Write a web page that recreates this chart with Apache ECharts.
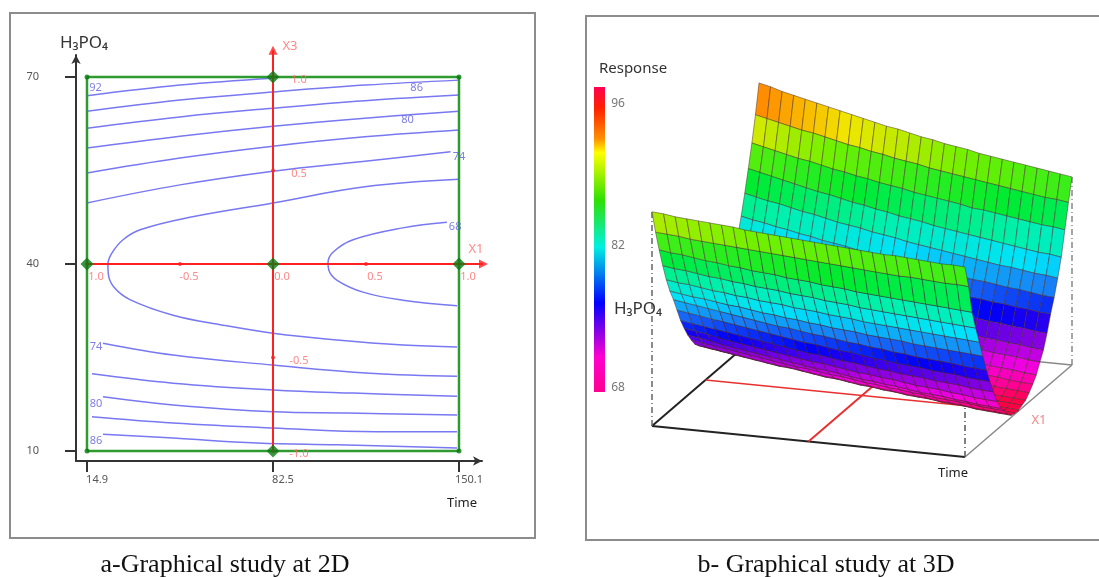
<!DOCTYPE html>
<html><head><meta charset="utf-8">
<style>html,body{margin:0;padding:0;background:#fff}#c{width:1099px;height:577px}</style>
<script src="https://cdn.jsdelivr.net/npm/echarts@6/dist/echarts.min.js"></script>
</head><body><div id="c"></div>
<script>
// ---------- 2D panel: contours as [Time, H3PO4] ----------
const contour89=[[14.9,67.0],[48.7,68.7],[82.5,69.8]];
const contour86=[[14.9,64.5],[48.7,66.3],[82.5,67.6],[115.9,68.7],[150.1,69.5]];
const contour83=[[14.9,61.8],[48.7,63.6],[82.5,65.0],[115.9,66.2],[150.1,67.1]];
const contour80=[[14.9,58.6],[48.7,60.5],[82.5,62.1],[115.9,63.4],[150.1,64.5]];
const contour77=[[14.9,54.6],[48.7,57.0],[82.5,58.9],[115.9,60.4],[150.1,61.5]];
const contour74=[[14.9,49.8],[48.7,52.7],[82.5,54.9],[115.9,56.5],[147,58.0]];
const contour71outer=[[150.1,53.6],[115.9,52.4],[82.5,49.8],[52.3,47.5],[34.2,45.5],[28,43.9],[24,41.8],[22.5,40],[22.6,38.6],[24.5,36.4],[30.5,34.3],[46.2,31.8],[64.3,30.2],[82.5,28.9],[105.8,27.8],[129.7,27],[149.4,26.7]];
const contour68inner=[[145.7,46.7],[129.7,45.8],[111.6,43.9],[104.3,41.9],[102.5,40.2],[102.8,39],[105.8,37.4],[115.2,35.5],[129.7,34.2],[149.4,33.3]];
const contourLow74=[[20.7,27.3],[46.2,25.4],[82.5,23.8],[117.7,22.5],[149.4,22]];
const contourLow77=[[16.7,22.4],[46.2,20.9],[82.5,19.8],[111.6,19.3],[149.4,18.8]];
const contourLow80=[[20.7,18.7],[46.2,17.4],[82.5,16.3],[109.4,16.1],[149.4,15.8]];
const contourLow83=[[16.7,15.5],[46.2,14.5],[82.5,13.7],[120.3,13.1],[149.4,13.1]];
const contourLow86=[[20.7,12.7],[46.2,12.1],[76.7,11.3],[105.8,11],[149.4,10.5]];
const contourLabels=[['92',18,68.2],['86',134.7,68.2],['80',131.4,63.1],['74',150.1,57.2],['68',148.7,46],['74',18.2,26.7],['80',18.2,17.6],['86',18.2,11.6]];
const timeTicks=[14.9,82.5,150.1];
const acidTicks=[10,40,70];
const x1Ticks=[-1,-0.5,0,0.5,1];
const x1TickText=['1.0','-0.5','0.0','0.5','1.0'];
const x3Ticks=[1,0.5,-0.5,-1];
const x3TickText=['1.0','0.5','-0.5','-1.0'];
const designPoints=[[14.9,40],[82.5,70],[82.5,40],[150.1,40],[82.5,10]];
const cornerPoints=[[14.9,70],[150.1,70],[14.9,10],[150.1,10]];
const studyBox=[[14.9,10],[14.9,70],[150.1,70],[150.1,10],[14.9,10]];
const x1Shaft=[[14.9,40],[159,40]];
const x3Shaft=[[82.5,10],[82.5,74.3]];
// ---------- 3D panel: response at each mesh node, row = H3PO4 (70 to 10), col = Time ----------
const responseRows=[
[92.9,92.6,92.2,91.9,91.6,91.3,91.0,90.7,90.4,90.1,89.8,89.5,89.3,89.0,88.7,88.5,88.2,88.0,87.8,87.5,87.3,87.1,86.9,86.7,86.5,86.3,86.1,85.9],
[89.7,89.4,89.1,88.8,88.5,88.3,88.0,87.7,87.4,87.2,86.9,86.7,86.4,86.2,86.0,85.7,85.5,85.3,85.1,84.9,84.7,84.5,84.3,84.1,83.9,83.7,83.6,83.4],
[86.9,86.6,86.3,86.0,85.7,85.5,85.2,84.9,84.7,84.4,84.2,83.9,83.7,83.5,83.2,83.0,82.8,82.6,82.4,82.1,82.0,81.8,81.6,81.4,81.2,81.0,80.9,80.7],
[84.4,84.1,83.8,83.5,83.2,82.9,82.6,82.4,82.1,81.8,81.6,81.3,81.1,80.8,80.6,80.4,80.1,79.9,79.7,79.5,79.3,79.1,78.9,78.7,78.5,78.3,78.2,78.0],
[82.0,81.7,81.4,81.2,80.9,80.6,80.4,80.1,79.8,79.6,79.4,79.1,78.9,78.7,78.4,78.2,78.0,77.8,77.6,77.4,77.2,77.0,76.8,76.7,76.5,76.3,76.2,76.0],
[79.8,79.5,79.3,79.0,78.8,78.5,78.3,78.0,77.8,77.6,77.3,77.1,76.9,76.7,76.5,76.3,76.1,75.9,75.7,75.5,75.3,75.2,75.0,74.8,74.7,74.5,74.3,74.2],
[77.8,77.6,77.3,77.1,76.9,76.6,76.4,76.2,76.0,75.8,75.6,75.4,75.2,75.0,74.8,74.6,74.4,74.2,74.1,73.9,73.7,73.6,73.4,73.3,73.1,73.0,72.8,72.7],
[76.1,75.9,75.6,75.4,75.1,74.9,74.7,74.5,74.2,74.0,73.8,73.6,73.4,73.2,73.0,72.8,72.6,72.5,72.3,72.1,72.0,71.8,71.6,71.5,71.3,71.2,71.0,70.9],
[74.6,74.4,74.1,73.9,73.6,73.4,73.2,73.0,72.7,72.5,72.3,72.1,71.9,71.7,71.5,71.3,71.1,71.0,70.8,70.6,70.5,70.3,70.1,70.0,69.8,69.7,69.5,69.4],
[73.3,73.1,72.8,72.6,72.4,72.2,72.0,71.7,71.5,71.3,71.1,71.0,70.8,70.6,70.4,70.2,70.0,69.9,69.7,69.5,69.4,69.2,69.1,68.9,68.8,68.7,68.5,68.4],
[72.1,71.9,71.6,71.4,71.2,71.0,70.8,70.6,70.4,70.2,70.0,69.8,69.6,69.4,69.2,69.1,68.9,68.7,68.6,68.4,68.3,68.1,68.0,67.8,67.7,67.6,67.4,67.3],
[71.1,70.9,70.7,70.5,70.3,70.1,69.9,69.7,69.5,69.3,69.1,68.9,68.8,68.6,68.4,68.3,68.1,67.9,67.8,67.6,67.5,67.4,67.2,67.1,67.0,66.8,66.7,66.6],
[70.3,70.1,69.9,69.7,69.5,69.3,69.1,68.9,68.8,68.6,68.4,68.2,68.1,67.9,67.7,67.6,67.4,67.3,67.1,67.0,66.9,66.7,66.6,66.5,66.3,66.2,66.1,66.0],
[69.6,69.4,69.2,69.0,68.8,68.7,68.5,68.3,68.1,68.0,67.8,67.6,67.5,67.3,67.2,67.0,66.9,66.7,66.6,66.5,66.3,66.2,66.1,66.0,65.8,65.7,65.6,65.5],
[69.2,69.0,68.8,68.7,68.5,68.3,68.1,68.0,67.8,67.6,67.5,67.3,67.2,67.0,66.9,66.7,66.6,66.5,66.3,66.2,66.1,66.0,65.8,65.7,65.6,65.5,65.4,65.3],
[68.9,68.7,68.5,68.4,68.2,68.0,67.9,67.7,67.5,67.4,67.2,67.1,66.9,66.8,66.6,66.5,66.4,66.2,66.1,66.0,65.9,65.7,65.6,65.5,65.4,65.3,65.2,65.1],
[69.1,68.9,68.7,68.5,68.4,68.2,68.0,67.8,67.7,67.5,67.3,67.2,67.0,66.9,66.7,66.6,66.4,66.3,66.2,66.0,65.9,65.8,65.7,65.5,65.4,65.3,65.2,65.1],
[69.5,69.3,69.1,68.9,68.7,68.5,68.3,68.1,68.0,67.8,67.6,67.4,67.3,67.1,66.9,66.8,66.6,66.5,66.3,66.2,66.1,65.9,65.8,65.7,65.5,65.4,65.3,65.2],
[70.0,69.8,69.6,69.4,69.2,69.0,68.8,68.6,68.5,68.3,68.1,67.9,67.8,67.6,67.4,67.3,67.1,67.0,66.8,66.7,66.6,66.4,66.3,66.2,66.0,65.9,65.8,65.7],
[70.8,70.6,70.4,70.2,70.0,69.8,69.6,69.4,69.2,69.0,68.9,68.7,68.5,68.4,68.2,68.0,67.9,67.7,67.6,67.4,67.3,67.1,67.0,66.9,66.8,66.6,66.5,66.4],
[71.7,71.5,71.3,71.0,70.8,70.6,70.4,70.2,70.0,69.8,69.6,69.4,69.3,69.1,68.9,68.7,68.6,68.4,68.3,68.1,67.9,67.8,67.7,67.5,67.4,67.2,67.1,67.0],
[72.8,72.6,72.4,72.1,71.9,71.7,71.5,71.3,71.1,70.9,70.7,70.5,70.4,70.2,70.0,69.8,69.7,69.5,69.4,69.2,69.0,68.9,68.8,68.6,68.5,68.3,68.2,68.1],
[74.0,73.8,73.6,73.4,73.2,73.0,72.8,72.6,72.4,72.2,72.0,71.8,71.7,71.5,71.3,71.2,71.0,70.8,70.7,70.5,70.4,70.3,70.1,70.0,69.9,69.7,69.6,69.5],
[75.5,75.3,75.1,74.9,74.7,74.5,74.3,74.1,73.9,73.7,73.5,73.3,73.2,73.0,72.8,72.7,72.5,72.3,72.2,72.0,71.9,71.8,71.6,71.5,71.4,71.2,71.1,71.0],
[77.0,76.8,76.6,76.4,76.2,76.0,75.8,75.6,75.4,75.2,75.1,74.9,74.7,74.6,74.4,74.2,74.1,73.9,73.8,73.6,73.5,73.3,73.2,73.1,73.0,72.8,72.7,72.6],
[78.3,78.1,77.9,77.8,77.6,77.4,77.3,77.1,76.9,76.8,76.6,76.5,76.3,76.2,76.0,75.9,75.8,75.6,75.5,75.4,75.3,75.1,75.0,74.9,74.8,74.7,74.6,74.5],
[79.9,79.7,79.6,79.4,79.2,79.1,78.9,78.8,78.6,78.5,78.4,78.2,78.1,78.0,77.8,77.7,77.6,77.4,77.3,77.2,77.1,77.0,76.9,76.8,76.7,76.6,76.5,76.4],
[81.8,81.6,81.5,81.3,81.1,81.0,80.8,80.7,80.5,80.4,80.3,80.1,80.0,79.9,79.7,79.6,79.5,79.3,79.2,79.1,79.0,78.9,78.8,78.7,78.6,78.5,78.4,78.3],
[83.9,83.7,83.6,83.4,83.2,83.1,82.9,82.8,82.6,82.5,82.4,82.2,82.1,82.0,81.8,81.7,81.6,81.4,81.3,81.2,81.1,81.0,80.9,80.8,80.7,80.6,80.5,80.4],
[86.2,86.1,86.0,85.8,85.7,85.6,85.5,85.4,85.3,85.2,85.1,85.0,84.9,84.8,84.7,84.6,84.5,84.4,84.3,84.2,84.1,84.0,84.0,83.9,83.8,83.7,83.7,83.6],
[88.8,88.7,88.5,88.4,88.3,88.2,88.1,88.0,87.8,87.7,87.6,87.5,87.4,87.3,87.2,87.1,87.0,86.9,86.8,86.7,86.6,86.6,86.5,86.4,86.3,86.2,86.2,86.1]
];
const surfaceStops=[[65.5,[255,0,70]],[66.5,[255,0,150]],[68,[240,0,225]],[70.3,[130,0,225]],[72.5,[0,0,245]],[75,[25,120,245]],[77.5,[0,225,250]],[80,[0,240,175]],[83,[0,235,50]],[86.5,[115,240,0]],[87.8,[190,235,0]],[89,[240,230,0]],[91,[255,145,0]],[97,[255,0,40]]];
const legendStops=[[0,'#ff0050'],[0.07,'#ff2000'],[0.17,'#ff9000'],[0.216,'#ffff00'],[0.37,'#30e000'],[0.525,'#00f0e0'],[0.708,'#0000ff'],[0.885,'#ff00d0'],[1,'#ff0090']];

// ---------- oblique view of the 3D box ----------
const rowCount=responseRows.length-1, colCount=responseRows[0].length-1;
function project(u,v,z){return [313*u+107*v,-31*u+92*v+9*(z-65)];}
function surfaceColor(z){
  for(let i=1;i<surfaceStops.length;i++){
    if(z<=surfaceStops[i][0]){
      const a=surfaceStops[i-1],b=surfaceStops[i],t=Math.max(0,(z-a[0])/(b[0]-a[0]));
      return 'rgb('+[0,1,2].map(c=>Math.round(a[1][c]+(b[1][c]-a[1][c])*t)).join(',')+')';
    }
  }
  return 'rgb(255,0,40)';
}
const cells=[];
for(let i=0;i<rowCount;i++)for(let k=0;k<colCount;k++)cells.push([k,i]);
function renderCell(params,api){
  const k=api.value(0),i=api.value(1);
  const node=(ii,kk)=>api.coord(project(kk/colCount,1-ii/rowCount,responseRows[ii][kk]));
  const z=(responseRows[i][k]+responseRows[i+1][k]+responseRows[i][k+1]+responseRows[i+1][k+1])/4;
  return {type:'polygon',shape:{points:[node(i,k),node(i,k+1),node(i+1,k+1),node(i+1,k)]},
    style:{fill:surfaceColor(z),stroke:'rgba(70,40,40,0.6)',lineWidth:0.8}};
}
const lineS=(data,color,width,extra)=>Object.assign({type:'line',xAxisIndex:1,yAxisIndex:1,data,symbol:'none',silent:true,animation:false,clip:false,lineStyle:{color,width}},extra||{});
const dash=[6,3,1,3];
const box3d=[
 lineS([project(0,0,65),project(1,0,65)],'#222',2),
 lineS([project(0,0,65),project(0,1,65)],'#222',2),
 lineS([project(1,0,65),project(1,1,65)],'#888',1.5),
 lineS([project(0,1,65),project(1,1,65)],'#888',1.5),
 lineS([project(0,0,65),project(0,0,88.8)],'#666',1.5,{lineStyle:{color:'#666',width:1.5,type:dash}}),
 lineS([project(1,0,65),project(1,0,86)],'#555',1.5,{lineStyle:{color:'#555',width:1.5,type:dash}}),
 lineS([project(1,1,65),project(1,1,85.9)],'#888',1.5,{lineStyle:{color:'#888',width:1.5,type:dash}}),
 lineS([project(0,0.5,65),project(1,0.5,65)],'#e83030',1.6),
 lineS([project(0.5,0,65),project(0.5,1,65)],'#e83030',2)
];
const contours=[contour89,contour86,contour83,contour80,contour77,contour74,contour71outer,contour68inner,contourLow74,contourLow77,contourLow80,contourLow83,contourLow86];
const coded=(c)=>[82.5+67.6*c,40+30*c];
const font='"Noto Sans",sans-serif';
const chart=echarts.init(document.getElementById('c'));
const txt=(text,x,y,size,fill,extra)=>({type:'text',x,y,z:50,style:Object.assign({text,font:size+'px '+font,fill,textAlign:'center',textVerticalAlign:'middle'},extra||{})});
const redLine=(data)=>({type:'line',data,symbol:'none',silent:true,clip:false,z:4,lineStyle:{color:'#ff2020',width:2}});
chart.setOption({
 animation:false,
 backgroundColor:'#fff',
 grid:[
  {left:76,top:55,width:406,height:406},
  {left:652,top:76,width:420,height:381}
 ],
 xAxis:[
  {type:'value',gridIndex:0,min:10.9,max:158.46,splitLine:{show:false},
   axisLine:{lineStyle:{color:'#333',width:2},symbol:['none','arrow'],symbolSize:[7,9]},
   axisTick:{customValues:timeTicks,length:11,lineStyle:{color:'#333',width:2}},
   axisLabel:{customValues:timeTicks,color:'#555',fontSize:11,fontFamily:font,margin:13,padding:[0,0,0,20],formatter:v=>String(v)}},
  {type:'value',gridIndex:1,min:0,max:420,show:false}
 ],
 yAxis:[
  {type:'value',gridIndex:0,min:8.41,max:73.53,splitLine:{show:false},
   axisLine:{lineStyle:{color:'#333',width:2},symbol:['none','arrow'],symbolSize:[7,9]},
   axisTick:{customValues:acidTicks,length:11,lineStyle:{color:'#333',width:2}},
   axisLabel:{customValues:acidTicks,color:'#555',fontSize:11,fontFamily:font,margin:37,formatter:v=>String(v)}},
  {type:'value',gridIndex:1,min:-31,max:350,show:false}
 ],
 series:[
  {type:'line',data:studyBox,symbol:'none',silent:true,z:3,lineStyle:{color:'#2f9a2f',width:2.5}},
  ...contours.map(c=>({type:'line',data:c,smooth:0.4,symbol:'none',silent:true,z:2,lineStyle:{color:'#7878f2',width:1.5}})),
  redLine(x1Shaft),
  redLine(x3Shaft),
  {type:'scatter',data:[{value:x1Shaft[1],symbolRotate:-90},{value:x3Shaft[1],symbolRotate:0}],symbol:'triangle',symbolSize:[9,9],z:4,silent:true,clip:false,itemStyle:{color:'#ff2020'}},
  {type:'scatter',data:x1Ticks.map((c,i)=>({value:[coded(c)[0],40],name:x1TickText[i]})),symbol:'circle',symbolSize:4,z:5,silent:true,itemStyle:{color:'#ff2020'},
   label:{show:true,formatter:'{b}',position:'inside',offset:[9,13],color:'#ff6a6a',fontSize:11,fontFamily:font}},
  {type:'scatter',data:x3Ticks.map((c,i)=>({value:[82.5,coded(c)[1]],name:x3TickText[i]})),symbol:'circle',symbolSize:4,z:5,silent:true,itemStyle:{color:'#ff2020'},
   label:{show:true,formatter:'{b}',position:'inside',offset:[26,3],color:'#ff6a6a',fontSize:11,fontFamily:font}},
  {type:'scatter',data:contourLabels.map(l=>({value:[l[1],l[2]],name:l[0]})),symbolSize:0,z:6,silent:true,
   label:{show:true,formatter:'{b}',position:'inside',color:'#5c5ce0',fontSize:11,fontFamily:font}},
  {type:'scatter',data:cornerPoints,symbol:'circle',symbolSize:5,z:7,silent:true,itemStyle:{color:'#0a7a12'}},
  {type:'scatter',data:designPoints,symbol:'diamond',symbolSize:13,z:7,silent:true,itemStyle:{color:'#0a7a12'}},
  ...box3d,
  {type:'custom',xAxisIndex:1,yAxisIndex:1,data:cells,renderItem:renderCell,silent:true,clip:false,z:4,encode:{x:0,y:1}}
 ],
 graphic:[
  {type:'rect',shape:{x:10,y:13,width:525,height:525},z:0,style:{fill:'none',stroke:'#8c8c8c',lineWidth:2}},
  {type:'rect',shape:{x:586,y:16,width:520,height:524},z:0,style:{fill:'none',stroke:'#8c8c8c',lineWidth:2}},
  txt('H₃PO₄',84,43,17,'#333'),
  txt('Time',462,503,13,'#222'),
  txt('X3',290,46,13,'#ff8a8a'),
  txt('X1',476,249,13,'#ff8a8a'),
  txt('Response',633,69,15,'#333'),
  txt('96',618,104,12,'#777'),
  txt('82',618,246,12,'#777'),
  txt('68',618,388,12,'#777'),
  txt('H₃PO₄',638,309,17,'#333'),
  txt('Time',953,473,13,'#222'),
  txt('X1',1039,420,13,'#ee8888'),
  {type:'rect',shape:{x:594,y:87,width:11,height:305},z:10,style:{fill:new echarts.graphic.LinearGradient(0,0,0,1,legendStops.map(s=>({offset:s[0],color:s[1]})))}},
  {type:'text',x:225,y:565,z:50,style:{text:'a-Graphical study at 2D',font:'26px "Liberation Serif",serif',fill:'#111',textAlign:'center',textVerticalAlign:'middle'}},
  {type:'text',x:826,y:565,z:50,style:{text:'b- Graphical study at 3D',font:'26px "Liberation Serif",serif',fill:'#111',textAlign:'center',textVerticalAlign:'middle'}}
 ]
});
</script></body></html>
